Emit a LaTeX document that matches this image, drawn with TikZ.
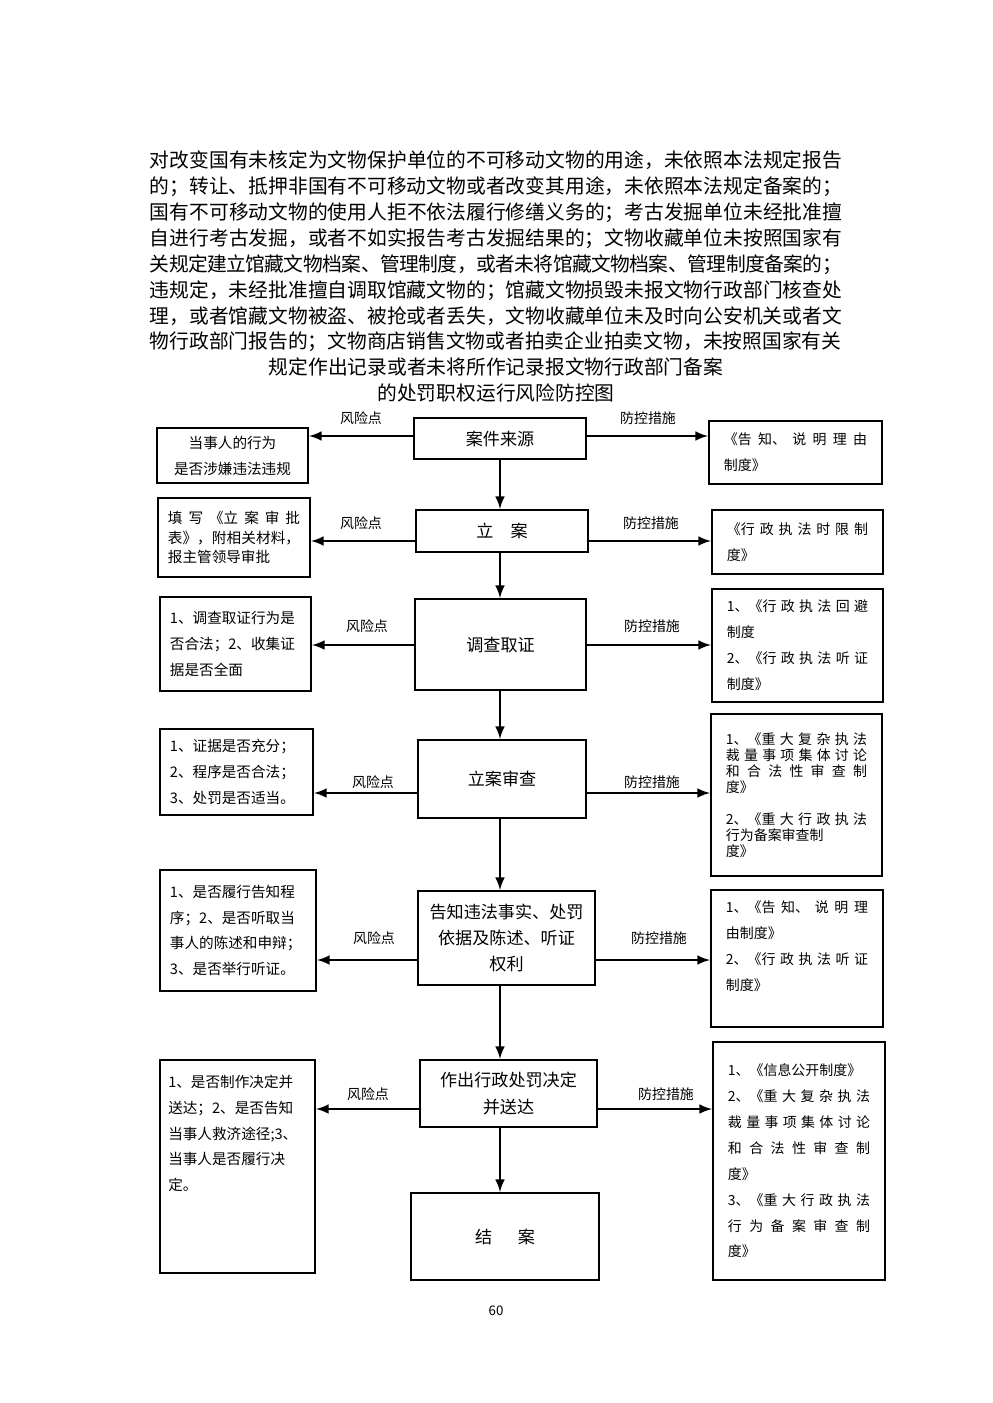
\documentclass[tikz,border=0pt]{standalone}
\usepackage{fontspec}
\setmainfont{Noto Sans CJK SC}
\XeTeXlinebreaklocale "zh"
\XeTeXlinebreakskip=0pt plus 2pt minus 0.5pt
\setlength{\parindent}{0pt}
\usetikzlibrary{positioning}

\tikzset{
  mid/.style={draw, line width=1.2pt, align=center, font=\fontsize{10.3}{15.7}\selectfont},
  risk/.style={draw, line width=1.2pt, align=left, inner xsep=6pt, font=\fontsize{8.8}{15.6}\selectfont},
  ctrl/.style={draw, line width=1.2pt, align=justify, inner xsep=9pt, font=\fontsize{8.4}{15.6}\selectfont},
  tag/.style={font=\fontsize{8.4}{10}\selectfont, inner sep=1pt},
  arr/.style={line width=1.6pt, -latex},
}

\begin{document}
\begin{tikzpicture}[x=0.6024pt, y=-0.6024pt]
  \useasboundingbox (0,0) rectangle (992,1403);
  % heading
  \node[font=\fontsize{11.9}{15.6}\selectfont, text width=417pt, align=justify] (title) at (496,251.5)
    {对改变国有未核定为文物保护单位的不可移动文物的用途，未依照本法规定报告\linebreak
     的；转让、抵押非国有不可移动文物或者改变其用途，未依照本法规定备案的；\linebreak
     国有不可移动文物的使用人拒不依法履行修缮义务的；考古发掘单位未经批准擅\linebreak
     自进行考古发掘，或者不如实报告考古发掘结果的；文物收藏单位未按照国家有\linebreak
     关规定建立馆藏文物档案、管理制度，或者未将馆藏文物档案、管理制度备案的；\linebreak
     违规定，未经批准擅自调取馆藏文物的；馆藏文物损毁未报文物行政部门核查处\linebreak
     理，或者馆藏文物被盗、被抢或者丢失，文物收藏单位未及时向公安机关或者文\linebreak
     物行政部门报告的；文物商店销售文物或者拍卖企业拍卖文物，未按照国家有关};
  \node[font=\fontsize{11.9}{15.6}\selectfont, align=center] (title2) at (496,380)
    {规定作出记录或者未将所作记录报文物行政部门备案\\的处罚职权运行风险防控图};
  % main steps
  \node[mid, minimum width=103.6pt, minimum height=24.7pt] (src) at (500,438.5) {案件来源};
  \node[mid, minimum width=103.6pt, minimum height=25.3pt] (file) at (502,531) {立\hspace{1em}案};
  \node[mid, minimum width=103pt, minimum height=54.8pt] (inv) at (500.5,644.5) {调查取证};
  \node[mid, minimum width=101.2pt, minimum height=47pt] (rev) at (502,779) {立案审查};
  \node[mid, minimum width=106.6pt, minimum height=56.6pt] (note) at (506.5,938) {告知违法事实、处罚\\依据及陈述、听证\\权利};
  \node[mid, minimum width=106.6pt, minimum height=40.4pt] (dec) at (508.5,1093.5) {作出行政处罚决定\\并送达};
  \node[mid, minimum width=113.3pt, minimum height=52.4pt] (close) at (505,1236.5) {结\hspace{1.5em}案};
  % risk points
  \node[risk, minimum width=91pt, minimum height=33.1pt, align=center] (r1) at (232.5,455.5) {当事人的行为\\是否涉嫌违法违规};
  \node[risk, text width=79.6pt, minimum height=47.6pt, align=justify, font=\fontsize{8.8}{11.8}\selectfont] (r2) at (234,537.5) {填写《立案审批\linebreak 表》，附相关材料，\linebreak 报主管领导审批};
  \node[risk, text width=79pt, minimum height=56.6pt] (r3) at (235.5,644) {1、调查取证行为是\\否合法；2、收集证\\据是否全面};
  \node[risk, text width=80.2pt, minimum height=51.8pt] (r4) at (236.5,772) {1、证据是否充分；\\2、程序是否合法；\\3、处罚是否适当。};
  \node[risk, text width=82pt, minimum height=72.9pt] (r5) at (238,930.5) {1、是否履行告知程\\序；2、是否听取当\\事人的陈述和申辩；\\3、是否举行听证。};
  \node[risk, inner xsep=5pt, text width=83.4pt, minimum height=128.3pt] (r6) at (237.5,1166.5) {1、是否制作决定并\\送达；2、是否告知\\当事人救济途径;3、\\当事人是否履行决\\定。\\[25pt]\mbox{}};
  % control measures
  \node[ctrl, text width=86.2pt, minimum height=38pt] (c1) at (795.5,452.5) {《告知、说明理由\linebreak 制度》};
  \node[ctrl, text width=85pt, minimum height=38.6pt] (c2) at (797.5,542) {《行政执法时限制\linebreak 度》};
  \node[ctrl, text width=85pt, minimum height=68.1pt] (c3) at (797.5,645.5) {\mbox{1、《}行政执法回避\linebreak 制度\newline \mbox{2、《}行政执法听证\linebreak 制度》};
  \node[ctrl, text width=85pt, minimum height=97.6pt, font=\fontsize{8.4}{9.6}\selectfont] (c4) at (796.5,795) {\mbox{1、《}重大复杂执法\linebreak 裁量事项集体讨论\linebreak 和合法性审查制\linebreak 度》\\[9.6pt]\mbox{2、《}重大行政执法\linebreak 行为备案审查制\newline 度》};
  \node[ctrl, text width=85.6pt, minimum height=82.5pt] (c5) at (797,958.5) {\mbox{1、《}告知、说明理\linebreak 由制度》\newline \mbox{2、《}行政执法听证\linebreak 制度》\newline\mbox{}};
  \node[ctrl, text width=85.6pt, minimum height=143.4pt] (c6) at (799,1161) {1、《信息公开制度》\newline \mbox{2、《}重大复杂执法\linebreak 裁量事项集体讨论\linebreak 和合法性审查制\linebreak 度》\newline \mbox{3、《}重大行政执法\linebreak 行为备案审查制\linebreak 度》};
  % flow down the middle
  \coordinate (axis) at (500,0);
  \draw[arr] (src.south -| axis) -- (file.north -| axis);
  \draw[arr] (file.south -| axis) -- (inv.north -| axis);
  \draw[arr] (inv.south -| axis) -- (rev.north -| axis);
  \draw[arr] (rev.south -| axis) -- (note.north -| axis);
  \draw[arr] (note.south -| axis) -- (dec.north -| axis);
  \draw[arr] (dec.south -| axis) -- (close.north -| axis);
  % side arrows
  \coordinate (y1) at (0,436);
  \coordinate (y2) at (0,541);
  \coordinate (y3) at (0,645);
  \coordinate (y4) at (0,793);
  \coordinate (y5) at (0,960);
  \coordinate (y6) at (0,1109);
  \draw[arr] (src.west |- y1) -- (r1.east |- y1);
  \draw[arr] (src.east |- y1) -- (c1.west |- y1);
  \draw[arr] (file.west |- y2) -- (r2.east |- y2);
  \draw[arr] (file.east |- y2) -- (c2.west |- y2);
  \draw[arr] (inv.west |- y3) -- (r3.east |- y3);
  \draw[arr] (inv.east |- y3) -- (c3.west |- y3);
  \draw[arr] (rev.west |- y4) -- (r4.east |- y4);
  \draw[arr] (rev.east |- y4) -- (c4.west |- y4);
  \draw[arr] (note.west |- y5) -- (r5.east |- y5);
  \draw[arr] (note.east |- y5) -- (c5.west |- y5);
  \draw[arr] (dec.west |- y6) -- (r6.east |- y6);
  \draw[arr] (dec.east |- y6) -- (c6.west |- y6);
  \node[tag] (k1) at (361,418) {风险点};
  \node[tag] (m1) at (648,418) {防控措施};
  \node[tag] (k2) at (361,523) {风险点};
  \node[tag] (m2) at (651,523) {防控措施};
  \node[tag] (k3) at (367,626) {风险点};
  \node[tag] (m3) at (652,626) {防控措施};
  \node[tag] (k4) at (373,782) {风险点};
  \node[tag] (m4) at (652,782) {防控措施};
  \node[tag] (k5) at (374,938) {风险点};
  \node[tag] (m5) at (659,938) {防控措施};
  \node[tag] (k6) at (368,1094) {风险点};
  \node[tag] (m6) at (666,1094) {防控措施};
  \node[font=\fontsize{8}{10}\selectfont] (pg) at (496,1311) {60};
\end{tikzpicture}
\end{document}
